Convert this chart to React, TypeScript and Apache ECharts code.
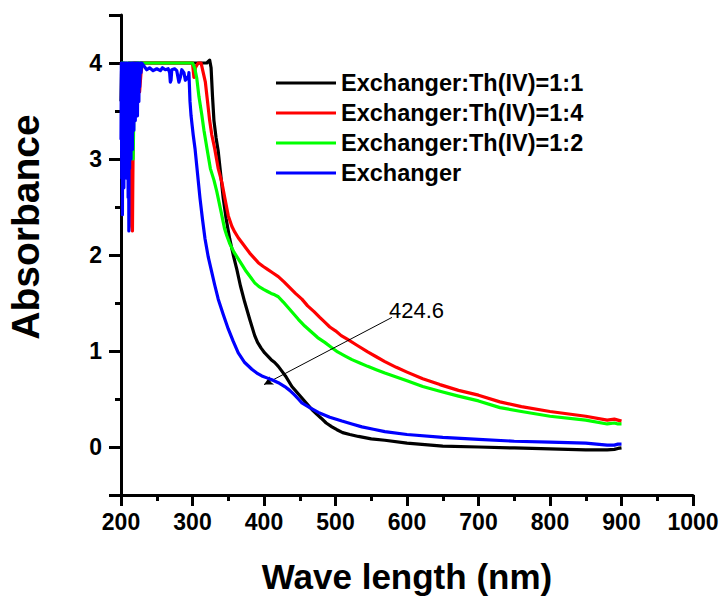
import React, { useEffect, useRef } from "react";
import * as echarts from "echarts";

const seriesNames = [
  "Exchanger:Th(IV)=1:1",
  "Exchanger:Th(IV)=1:4",
  "Exchanger:Th(IV)=1:2",
  "Exchanger",
];
const seriesColors = ["#000000", "#ff0000", "#00ff00", "#0000ff"];

const xTitle = "Wave length (nm)";
const yTitle = "Absorbance";
const peakLabel = "424.6";
const peakArrow: [number, number][] = [
  [400, 0.65],
  [579, 1.35],
];

// Exchanger:Th(IV)=1:1
const black: [number, number][] = [
  [200, 3.6], [201, 4.0], [203, 3.2], [204, 4.0], [206, 3.5], [207, 4.0], [210, 3.4], [211, 4.0],
  [214, 3.6], [215, 4.0], [250, 4.0], [300, 4.0], [320, 4.0], [324, 4.03], [326, 3.95], [328, 3.65],
  [330, 3.4], [333, 3.22], [336, 3.08], [340, 2.8], [343, 2.59], [347, 2.38], [352, 2.17], [357, 2.0],
  [362, 1.85], [367, 1.68], [373, 1.51], [380, 1.33], [387, 1.16], [391, 1.09], [396, 1.03], [401, 0.98],
  [405, 0.95], [410, 0.91], [415, 0.88], [420, 0.84], [425, 0.79], [430, 0.74], [435, 0.68], [439, 0.63],
  [446, 0.57], [453, 0.51], [460, 0.45], [467, 0.39], [474, 0.34], [480, 0.3], [487, 0.25], [495, 0.21],
  [502, 0.18], [510, 0.15], [520, 0.13], [532, 0.11], [550, 0.085], [569, 0.07], [600, 0.04], [650, 0.01],
  [700, 0.0], [750, -0.01], [800, -0.02], [850, -0.03], [880, -0.03], [890, -0.025], [895, -0.015],
  [900, -0.01],
];

// Exchanger:Th(IV)=1:4
const red: [number, number][] = [
  [200, 4.0], [205, 3.9], [213, 4.0], [214, 3.0], [215, 2.3], [216, 2.25], [217, 3.2], [218, 4.0],
  [222, 4.0], [224, 3.75], [226, 3.7], [228, 3.9], [230, 4.0], [260, 4.0], [300, 4.0], [302, 3.85],
  [304, 3.95], [308, 4.0], [312, 4.0], [315, 3.9], [318, 3.8], [321, 3.6], [324, 3.4], [327, 3.25],
  [331, 3.11], [336, 2.9], [341, 2.76], [345, 2.6], [350, 2.41], [355, 2.3], [359, 2.24], [364, 2.18],
  [369, 2.13], [375, 2.07], [380, 2.02], [386, 1.97], [392, 1.92], [399, 1.88], [405, 1.85], [412, 1.815],
  [420, 1.775], [428, 1.72], [436, 1.66], [444, 1.6], [453, 1.54], [461, 1.47], [470, 1.41], [478, 1.35],
  [485, 1.3], [492, 1.25], [500, 1.21], [508, 1.16], [517, 1.12], [530, 1.06], [545, 0.99], [557, 0.94],
  [569, 0.89], [585, 0.83], [600, 0.78], [622, 0.71], [646, 0.65], [672, 0.59], [700, 0.54], [730, 0.47],
  [760, 0.42], [800, 0.37], [850, 0.32], [880, 0.28], [890, 0.29], [895, 0.28], [900, 0.27],
];

// Exchanger:Th(IV)=1:2
const green: [number, number][] = [
  [200, 4.0], [205, 4.0], [206, 3.5], [207, 3.1], [208, 3.6], [209, 4.0], [215, 4.0], [216, 3.4],
  [217, 3.0], [218, 3.5], [219, 4.0], [260, 4.0], [300, 4.0], [303, 3.95], [306, 3.84], [309, 3.65],
  [313, 3.46], [316, 3.3], [320, 3.12], [325, 2.9], [330, 2.78], [334, 2.66], [340, 2.45], [345, 2.27],
  [348, 2.2], [352, 2.12], [358, 2.03], [364, 1.96], [370, 1.89], [375, 1.83], [381, 1.77], [387, 1.71],
  [393, 1.67], [400, 1.64], [405, 1.62], [410, 1.6], [415, 1.585], [420, 1.565], [427, 1.51], [434, 1.45],
  [441, 1.39], [448, 1.33], [457, 1.26], [466, 1.2], [475, 1.14], [485, 1.09], [494, 1.04], [503, 0.99],
  [513, 0.95], [523, 0.91], [534, 0.875], [545, 0.84], [557, 0.805], [569, 0.77], [585, 0.73], [600, 0.69],
  [622, 0.63], [646, 0.58], [672, 0.53], [700, 0.48], [730, 0.41], [760, 0.37], [800, 0.32], [850, 0.28],
  [880, 0.24], [890, 0.25], [895, 0.24], [900, 0.24],
];

// Exchanger
const blue: [number, number][] = [
  [200, 3.2], [200.5, 4.0], [201, 2.8], [201.5, 4.0], [202, 2.42], [202.5, 3.9], [203, 3.0], [203.5, 4.0],
  [204, 2.7], [204.5, 3.95], [205, 3.1], [205.5, 4.0], [206, 2.9], [206.5, 3.85], [207, 3.3], [207.5, 4.0],
  [208, 2.8], [208.5, 3.9], [209, 3.2], [209.5, 4.0], [210, 2.6], [210.5, 3.9], [211, 2.25], [211.5, 4.0],
  [212, 2.9], [212.5, 3.8], [213, 3.2], [213.5, 4.0], [214, 3.0], [214.5, 3.9], [215, 3.4], [215.5, 4.0],
  [216, 3.1], [216.5, 3.95], [217, 3.5], [217.5, 4.0], [218, 3.3], [218.5, 3.9], [219, 3.6], [219.5, 4.0],
  [220, 3.4], [220.5, 4.0], [221, 3.5], [221.5, 3.95], [222, 3.6], [222.5, 4.0], [223, 3.45], [223.5, 3.9],
  [224, 3.7], [224.5, 4.0], [225, 3.6], [225.5, 3.95], [226, 3.75], [227, 4.0], [228, 3.9], [229, 4.0],
  [232, 3.97], [236, 3.93], [240, 3.95], [245, 3.92], [250, 3.94], [255, 3.92], [258, 3.95], [262, 3.93],
  [266, 3.94], [268, 3.9], [269, 3.8], [270, 3.82], [271, 3.93], [275, 3.94], [278, 3.92], [280, 3.84],
  [281, 3.8], [283, 3.85], [285, 3.93], [288, 3.9], [290, 3.82], [292, 3.85], [294, 3.83], [295, 3.9],
  [296.5, 3.6], [298, 3.45], [299.5, 3.35], [301, 3.25], [303.5, 3.11], [307, 2.85], [310.5, 2.59],
  [314, 2.37], [317.5, 2.17], [322, 1.98], [327, 1.82], [331, 1.69], [336, 1.54], [343, 1.38], [350, 1.23],
  [357, 1.1], [364, 0.98], [373, 0.88], [383, 0.81], [390, 0.77], [397, 0.74], [404, 0.72], [411, 0.7],
  [420, 0.67], [429, 0.63], [436, 0.59], [443, 0.54], [448, 0.5], [453, 0.46], [464, 0.41], [476, 0.36],
  [492, 0.31], [509, 0.27], [523, 0.24], [537, 0.21], [553, 0.185], [569, 0.16], [600, 0.13], [650, 0.1],
  [700, 0.08], [750, 0.06], [800, 0.05], [850, 0.04], [880, 0.02], [890, 0.02], [895, 0.03], [900, 0.03],
];

const seriesData = [black, red, green, blue];

const FONT = "Arial, 'Liberation Sans', Helvetica, sans-serif";

export default function App() {
  const ref = useRef<HTMLDivElement>(null);
  useEffect(() => {
    document.body.style.margin = "0";
    if (!ref.current) return;
    const chart = echarts.init(ref.current, null, { renderer: "svg" });
    chart.setOption({
      animation: false,
      backgroundColor: "#ffffff",
      grid: { left: 121, right: 30, top: 15, bottom: 104, outerBoundsMode: "none" },
      legend: {
        data: seriesNames,
        orient: "vertical",
        left: 271,
        top: 66,
        icon: "rect",
        itemWidth: 60,
        itemHeight: 3,
        itemGap: 6,
        selectedMode: false,
        textStyle: { fontSize: 23.5, fontWeight: "bold", color: "#000", fontFamily: FONT, lineHeight: 23 },
      },
      xAxis: {
        type: "value",
        min: 200,
        max: 1000,
        interval: 100,
        name: xTitle,
        nameLocation: "middle",
        nameGap: 64,
        nameTextStyle: { fontSize: 35, fontWeight: "bold", color: "#000", fontFamily: FONT },
        axisLine: { show: true, onZero: false, lineStyle: { color: "#000", width: 3 } },
        axisTick: { show: true, inside: false, length: 11, lineStyle: { color: "#000", width: 3 } },
        minorTick: { show: true, splitNumber: 2, length: 6, lineStyle: { color: "#000", width: 3 } },
        axisLabel: {
          fontSize: 23,
          fontWeight: "bold",
          color: "#000",
          fontFamily: FONT,
          margin: 15,
          formatter: (v: number) => String(v),
        },
        splitLine: { show: false },
      },
      yAxis: {
        type: "value",
        min: -0.5,
        max: 4.5,
        splitNumber: 5,
        name: yTitle,
        nameLocation: "middle",
        nameGap: 76,
        nameTextStyle: {
          fontSize: 39,
          fontWeight: "bold",
          color: "#000",
          fontFamily: FONT,
          padding: [0, 0, 0, 56],
        },
        axisLine: { show: true, onZero: false, lineStyle: { color: "#000", width: 3 } },
        axisTick: { show: true, inside: false, length: 12, lineStyle: { color: "#000", width: 3 } },
        minorTick: { show: true, splitNumber: 2, length: 6, lineStyle: { color: "#000", width: 3 } },
        axisLabel: {
          fontSize: 23,
          fontWeight: "bold",
          color: "#000",
          fontFamily: FONT,
          margin: 19,
          showMinLabel: false,
          showMaxLabel: false,
          formatter: (v: number) => String(v),
        },
        splitLine: { show: false },
      },
      series: seriesNames.map((name, i) => ({
        name,
        type: "line",
        data: seriesData[i],
        showSymbol: false,
        symbol: "none",
        color: seriesColors[i],
        lineStyle: { color: seriesColors[i], width: 3.2, join: "round" },
        emphasis: { disabled: true },
        z: 2 + i,
        markLine:
          i === 0
            ? {
                silent: true,
                symbol: ["arrow", "none"],
                symbolSize: [7, 9],
                label: { show: false },
                lineStyle: { color: "#000", width: 1, type: "solid" },
                emphasis: { disabled: true },
                data: [[{ coord: peakArrow[0] }, { coord: peakArrow[1] }]],
              }
            : undefined,
      })),
    });
    const p = chart.convertToPixel({ gridIndex: 0 }, peakArrow[1]) as number[];
    chart.setOption({
      graphic: [
        {
          type: "text",
          x: p[0] - 3,
          y: p[1] + 4,
          style: {
            text: peakLabel,
            fontSize: 22,
            fontFamily: FONT,
            fill: "#000",
            verticalAlign: "bottom",
            align: "left",
          },
        },
      ],
    });
    return () => chart.dispose();
  }, []);
  return <div ref={ref} style={{ width: 723, height: 599 }} />;
}
